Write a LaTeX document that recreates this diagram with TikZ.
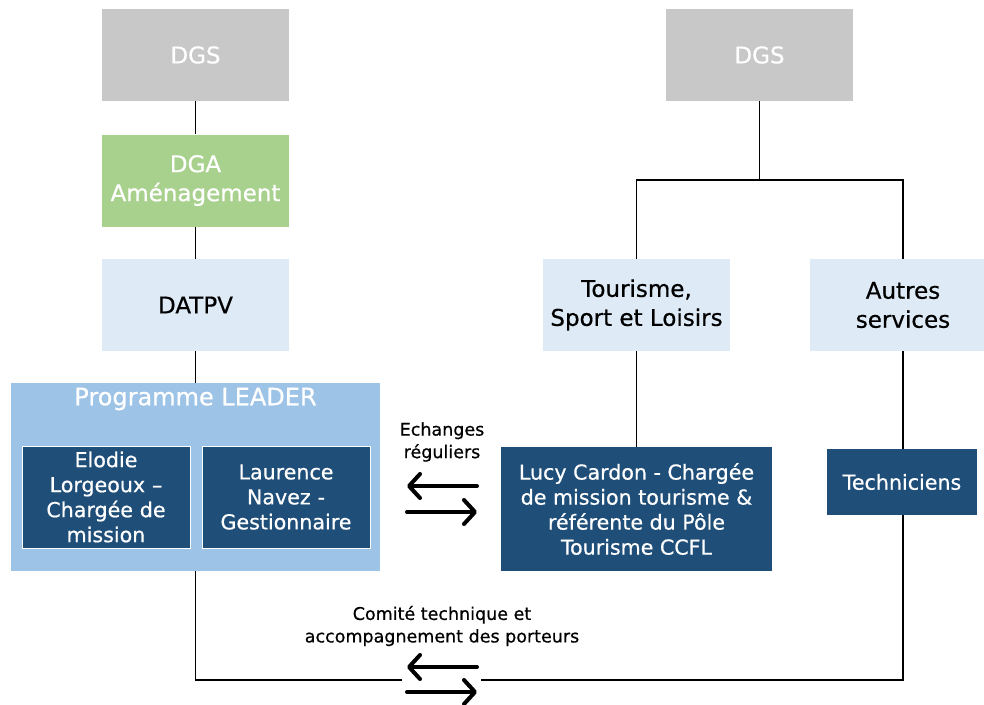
\documentclass[tikz,border=0pt]{standalone}
\usepackage{fontspec}
\setmainfont{DejaVu Sans}[FakeBold=0.6]
\usetikzlibrary{arrows.meta}
\definecolor{cgrey}{HTML}{C8C8C8}
\definecolor{cgreen}{HTML}{A9D18E}
\definecolor{clight}{HTML}{DEEBF7}
\definecolor{cmid}{HTML}{9DC3E6}
\definecolor{cdark}{HTML}{1F4E79}
\tikzset{
  box/.style={rectangle, inner sep=0pt, align=center, minimum width=187pt, minimum height=92pt, font=\fontsize{23}{29}\selectfont},
  greybox/.style={box, fill=cgrey, text=white},
  greenbox/.style={box, fill=cgreen, text=white},
  lightbox/.style={box, fill=clight, text=black},
  darkbox/.style={rectangle, inner sep=0pt, align=center, fill=cdark, text=white, font=\fontsize{20.6}{25}\selectfont},
  link/.style={draw=black, line width=1.3pt},
  xarrow/.style={line width=4pt, line cap=round, -{Straight Barb[length=11pt,width=24pt,round]}},
  lbl/.style={align=center, inner sep=0pt, font=\fontsize{17.5}{22.5}\selectfont}
}
\begin{document}
\begin{tikzpicture}[x=1pt,y=-1pt]
\useasboundingbox (0,0) rectangle (984,704);
\clip (0,0) rectangle (984,704);
\fill[white] (0,0) rectangle (984,704);
% left column
\node[greybox] (dgsL) at (195.5,55) {DGS};
\node[greenbox] (dga) at (195.5,180.5) {DGA\\Aménagement};
\node[lightbox] (datpv) at (195.5,305) {DATPV};
\node[rectangle, fill=cmid, minimum width=369pt, minimum height=188pt, inner sep=0pt] (leader) at (195.5,477) {};
\node[text=white, inner sep=0pt, font=\fontsize{24}{29}\selectfont] (leadertitle) at (195.5,399) {Programme LEADER};
\node[darkbox, draw=white, line width=1pt, minimum width=168pt, minimum height=102pt, text width=160pt] (elodie) at (106,497) {Elodie\\Lorgeoux –\\Chargée de\\mission};
\node[darkbox, draw=white, line width=1pt, minimum width=168pt, minimum height=102pt, text width=160pt] (laurence) at (286,497) {Laurence\\Navez -\\Gestionnaire};
% right column
\node[greybox] (dgsR) at (759.5,55) {DGS};
\node[lightbox] (tour) at (636.5,305) {Tourisme,\\Sport et Loisirs};
\node[lightbox] (autres) at (903,305) {Autres\\services};
\node[darkbox, minimum width=271pt, minimum height=124pt] (lucy) at (636.5,509) {Lucy Cardon - Chargée\\de mission tourisme \&\\référente du Pôle\\Tourisme CCFL};
\node[darkbox, minimum width=150pt, minimum height=66pt] (tech) at (902,482) {Techniciens};
% connectors
\draw[link] (dgsL) -- (dga);
\draw[link] (dga) -- (datpv);
\draw[link] (datpv) -- (leader);
\coordinate (split) at (759.5,180);
\draw[link] (dgsR.south) -- (split);
\draw[link] (split) -| (tour.north);
\draw[link] (split) -| (autres.north);
\draw[link] (tour.south) -- (lucy.north);
\draw[link] (autres.south) -- (autres.south |- tech.north);
\coordinate (gl) at (402,680);
\coordinate (gr) at (481,680);
\draw[link] (leader.south) |- (gl);
\draw[link] (autres.south |- tech.south) |- (gr);
% labels and arrows
\node[lbl] (ech) at (442,442) {Echanges\\réguliers};
\coordinate (a1l) at (407,486);
\coordinate (a1r) at (477,486);
\coordinate (a2l) at (407,512);
\coordinate (a2r) at (477,512);
\draw[xarrow] (a1r) -- (a1l);
\draw[xarrow] (a2l) -- (a2r);
\node[lbl] (comite) at (442,626) {Comité technique et\\accompagnement des porteurs};
\coordinate (b1l) at (407,667);
\coordinate (b1r) at (477,667);
\coordinate (b2l) at (407,692);
\coordinate (b2r) at (477,692);
\draw[xarrow] (b1r) -- (b1l);
\draw[xarrow] (b2l) -- (b2r);
\end{tikzpicture}
\end{document}
